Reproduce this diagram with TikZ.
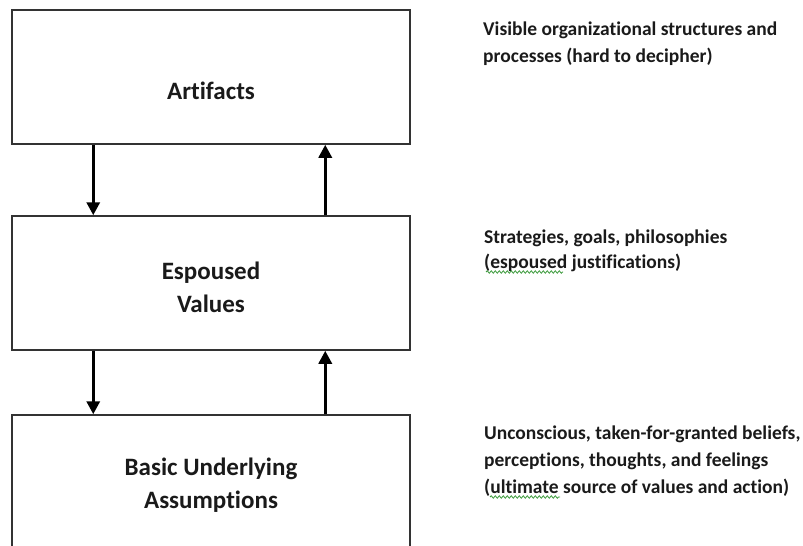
\documentclass[tikz,border=0pt]{standalone}
\usepackage{fontspec}
\setmainfont{Carlito}[Ligatures=NoCommon]
\usetikzlibrary{arrows.meta,decorations.pathmorphing}
\definecolor{ink}{HTML}{1A1A1A}
\definecolor{frame}{HTML}{333333}
\definecolor{squiggle}{HTML}{3C9A3C}
\tikzset{
  layer/.style={draw=frame, line width=1.5pt, fill=white, minimum width=398pt, minimum height=134pt, inner sep=0pt},
  title/.style={font=\bfseries\fontsize{25}{33}\selectfont, text=ink, align=center, inner sep=0pt},
  note/.style={font=\bfseries\fontsize{19.5}{27}\selectfont, text=ink, align=left, inner sep=0pt, anchor=base west},
  flow/.style={line width=3.2pt, draw=black, -{Triangle[length=13pt,width=13pt]}},
  spell/.style={draw=squiggle, line width=0.8pt, decorate, decoration={snake, amplitude=1.2pt, segment length=4pt}}
}
\begin{document}
\begin{tikzpicture}[x=1pt, y=-1pt]
  \useasboundingbox (0,0) rectangle (803,546);
  \clip (0,0) rectangle (803,546);

  % the three layers
  \node[layer] (art) at (211,77) {};
  \node[layer] (esp) at (211,283) {};
  \node[layer] (bua) at (211,482) {};

  % layer titles
  \node[title] (tArt) at (211,91) {Artifacts};
  \node[title] (tEsp) at (211,287) {Espoused\\Values};
  \node[title] (tBua) at (211,485) {Basic Underlying\\Assumptions};

  % links between the layers
  \draw[flow] ([xshift=82pt]art.south west) -- ([xshift=82pt]esp.north west);
  \draw[flow] ([xshift=314pt]esp.north west) -- ([xshift=314pt]art.south west);
  \draw[flow] ([xshift=82pt]esp.south west) -- ([xshift=82pt]bua.north west);
  \draw[flow] ([xshift=314pt]bua.north west) -- ([xshift=314pt]esp.south west);

  % descriptions (anchored on the baseline of their last line)
  \node[note] (nArt) at (483,62) {Visible organizational structures and\\processes (hard to decipher)};
  \node[note, font=\bfseries\fontsize{19.5}{25}\selectfont] (nEsp) at (484,268) {Strategies, goals, philosophies\\(espoused justifications)};
  \node[note] (nBua) at (484,493) {Unconscious, taken-for-granted beliefs,\\perceptions, thoughts, and feelings\\(ultimate source of values and action)};

  % spelling marks under two words
  \coordinate (s1a) at (486,272);
  \coordinate (s1b) at (563,272);
  \coordinate (s2a) at (490,497);
  \coordinate (s2b) at (560,497);
  \draw[spell] (s1a) -- (s1b);
  \draw[spell] (s2a) -- (s2b);
\end{tikzpicture}
\end{document}
